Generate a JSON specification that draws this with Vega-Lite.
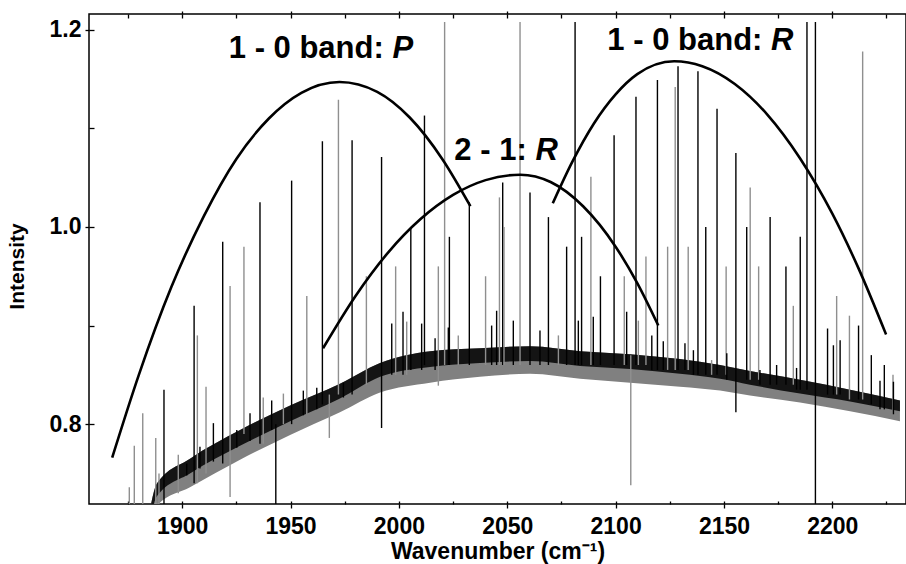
{
  "$schema": "https://vega.github.io/schema/vega-lite/v6.json",
  "width": 817,
  "height": 490,
  "autosize": {"type": "none"},
  "padding": {"left": 89, "top": 14, "right": 0, "bottom": 60},
  "background": "white",
  "config": {
    "view": {"stroke": "#000", "strokeWidth": 1.5},
    "font": "Liberation Sans",
    "axis": {"grid": false, "domain": false, "tickColor": "#000", "tickWidth": 1.3, "labelColor": "#000", "titleColor": "#000", "labelFont": "Liberation Sans", "titleFont": "Liberation Sans", "labelFontWeight": "bold", "titleFontWeight": "bold", "labelOverlap": false, "labelFlush": false}
  },
  "datasets": {
    "band": [
      {"x": 1884, "top": 0.70, "blk": 0.69, "bot": 0.68},
      {"x": 1888.4, "top": 0.740, "blk": 0.727, "bot": 0.7175},
      {"x": 1903.6, "top": 0.765, "blk": 0.750, "bot": 0.736},
      {"x": 1926.7, "top": 0.794, "blk": 0.778, "bot": 0.764},
      {"x": 1949.8, "top": 0.819, "blk": 0.803, "bot": 0.789},
      {"x": 1972.8, "top": 0.841, "blk": 0.826, "bot": 0.812},
      {"x": 1991.3, "top": 0.862, "blk": 0.848, "bot": 0.832},
      {"x": 2014.4, "top": 0.874, "blk": 0.858, "bot": 0.842},
      {"x": 2037.4, "top": 0.877, "blk": 0.862, "bot": 0.848},
      {"x": 2060.5, "top": 0.879, "blk": 0.864, "bot": 0.851},
      {"x": 2083.6, "top": 0.874, "blk": 0.859, "bot": 0.846},
      {"x": 2106.7, "top": 0.871, "blk": 0.856, "bot": 0.842},
      {"x": 2129.7, "top": 0.866, "blk": 0.851, "bot": 0.838},
      {"x": 2148.2, "top": 0.860, "blk": 0.846, "bot": 0.834},
      {"x": 2162.0, "top": 0.854, "blk": 0.840, "bot": 0.829},
      {"x": 2185.1, "top": 0.845, "blk": 0.831, "bot": 0.822},
      {"x": 2208.2, "top": 0.835, "blk": 0.823, "bot": 0.813},
      {"x": 2231.2, "top": 0.824, "blk": 0.813, "bot": 0.803}
    ],
    "spikes": [
      {"x": 1875.6, "lo": 0.70, "hi": 0.736, "c": "g"},
      {"x": 1877.9, "lo": 0.70, "hi": 0.778, "c": "g"},
      {"x": 1881.8, "lo": 0.70, "hi": 0.811, "c": "g"},
      {"x": 1887.8, "lo": 0.70, "hi": 0.786, "c": "g"},
      {"x": 1889.3, "lo": 0.70, "hi": 0.750, "c": "g"},
      {"x": 1891.6, "lo": 0.70, "hi": 0.835, "c": "k"},
      {"x": 1898.2, "lo": 0.73, "hi": 0.769, "c": "g"},
      {"x": 1902.1, "lo": 0.748, "hi": 0.760, "c": "k"},
      {"x": 1905.5, "lo": 0.74, "hi": 0.920, "c": "k"},
      {"x": 1907.0, "lo": 0.74, "hi": 0.890, "c": "g"},
      {"x": 1908.2, "lo": 0.755, "hi": 0.777, "c": "k"},
      {"x": 1911.0, "lo": 0.75, "hi": 0.838, "c": "g"},
      {"x": 1914.4, "lo": 0.762, "hi": 0.801, "c": "k"},
      {"x": 1918.7, "lo": 0.76, "hi": 0.985, "c": "k"},
      {"x": 1922.1, "lo": 0.726, "hi": 0.940, "c": "g"},
      {"x": 1925.2, "lo": 0.776, "hi": 0.794, "c": "k"},
      {"x": 1928.5, "lo": 0.79, "hi": 0.980, "c": "g"},
      {"x": 1931.3, "lo": 0.783, "hi": 0.811, "c": "k"},
      {"x": 1935.9, "lo": 0.78, "hi": 1.025, "c": "k"},
      {"x": 1937.4, "lo": 0.78, "hi": 0.827, "c": "g"},
      {"x": 1941.3, "lo": 0.794, "hi": 0.824, "c": "k"},
      {"x": 1943.2, "lo": 0.70, "hi": 0.800, "c": "k"},
      {"x": 1946.7, "lo": 0.80, "hi": 0.831, "c": "g"},
      {"x": 1950.5, "lo": 0.80, "hi": 1.047, "c": "k"},
      {"x": 1955.9, "lo": 0.809, "hi": 0.834, "c": "k"},
      {"x": 1957.5, "lo": 0.81, "hi": 0.930, "c": "g"},
      {"x": 1962.1, "lo": 0.815, "hi": 0.837, "c": "k"},
      {"x": 1964.7, "lo": 0.82, "hi": 1.087, "c": "k"},
      {"x": 1967.9, "lo": 0.786, "hi": 0.830, "c": "g"},
      {"x": 1972.1, "lo": 0.83, "hi": 1.129, "c": "g"},
      {"x": 1974.4, "lo": 0.827, "hi": 0.842, "c": "k"},
      {"x": 1978.4, "lo": 0.83, "hi": 1.088, "c": "k"},
      {"x": 1985.0, "lo": 0.84, "hi": 0.950, "c": "g"},
      {"x": 1992.0, "lo": 0.796, "hi": 1.071, "c": "k"},
      {"x": 1996.7, "lo": 0.85, "hi": 0.902, "c": "k"},
      {"x": 1998.5, "lo": 0.85, "hi": 0.960, "c": "g"},
      {"x": 2001.9, "lo": 0.85, "hi": 0.914, "c": "k"},
      {"x": 2003.6, "lo": 0.85, "hi": 0.904, "c": "g"},
      {"x": 2005.5, "lo": 0.855, "hi": 1.000, "c": "k"},
      {"x": 2010.5, "lo": 0.855, "hi": 0.902, "c": "k"},
      {"x": 2011.8, "lo": 0.86, "hi": 1.113, "c": "k"},
      {"x": 2016.7, "lo": 0.855, "hi": 0.887, "c": "k"},
      {"x": 2018.2, "lo": 0.839, "hi": 0.960, "c": "g"},
      {"x": 2021.1, "lo": 0.86, "hi": 1.208, "c": "g"},
      {"x": 2022.8, "lo": 0.86, "hi": 0.898, "c": "k"},
      {"x": 2023.3, "lo": 0.86, "hi": 0.990, "c": "k"},
      {"x": 2027.4, "lo": 0.86, "hi": 0.890, "c": "g"},
      {"x": 2032.5, "lo": 0.86, "hi": 1.025, "c": "k"},
      {"x": 2040.0, "lo": 0.86, "hi": 0.950, "c": "g"},
      {"x": 2042.8, "lo": 0.86, "hi": 0.900, "c": "k"},
      {"x": 2045.1, "lo": 0.86, "hi": 0.915, "c": "k"},
      {"x": 2046.4, "lo": 0.86, "hi": 1.030, "c": "g"},
      {"x": 2047.9, "lo": 0.86, "hi": 1.045, "c": "k"},
      {"x": 2048.5, "lo": 0.86, "hi": 1.000, "c": "g"},
      {"x": 2052.8, "lo": 0.86, "hi": 0.905, "c": "k"},
      {"x": 2055.9, "lo": 0.86, "hi": 1.208, "c": "g"},
      {"x": 2060.5, "lo": 0.86, "hi": 1.035, "c": "k"},
      {"x": 2065.1, "lo": 0.86, "hi": 0.895, "c": "k"},
      {"x": 2069.0, "lo": 0.86, "hi": 1.010, "c": "k"},
      {"x": 2073.6, "lo": 0.86, "hi": 0.890, "c": "g"},
      {"x": 2077.4, "lo": 0.86, "hi": 0.980, "c": "k"},
      {"x": 2081.3, "lo": 0.86, "hi": 1.208, "c": "k"},
      {"x": 2082.8, "lo": 0.86, "hi": 0.905, "c": "k"},
      {"x": 2084.3, "lo": 0.86, "hi": 0.990, "c": "k"},
      {"x": 2088.6, "lo": 0.86, "hi": 1.051, "c": "g"},
      {"x": 2089.7, "lo": 0.86, "hi": 0.909, "c": "k"},
      {"x": 2093.0, "lo": 0.86, "hi": 0.950, "c": "k"},
      {"x": 2099.3, "lo": 0.86, "hi": 1.093, "c": "k"},
      {"x": 2104.0, "lo": 0.86, "hi": 0.950, "c": "g"},
      {"x": 2105.1, "lo": 0.86, "hi": 0.914, "c": "k"},
      {"x": 2107.0, "lo": 0.738, "hi": 0.870, "c": "g"},
      {"x": 2109.4, "lo": 0.86, "hi": 1.132, "c": "k"},
      {"x": 2110.5, "lo": 0.86, "hi": 0.905, "c": "g"},
      {"x": 2114.0, "lo": 0.86, "hi": 0.970, "c": "g"},
      {"x": 2116.7, "lo": 0.855, "hi": 0.890, "c": "k"},
      {"x": 2119.3, "lo": 0.855, "hi": 1.149, "c": "k"},
      {"x": 2122.0, "lo": 0.855, "hi": 0.884, "c": "k"},
      {"x": 2124.0, "lo": 0.855, "hi": 0.980, "c": "g"},
      {"x": 2127.5, "lo": 0.855, "hi": 1.142, "c": "g"},
      {"x": 2128.8, "lo": 0.855, "hi": 1.163, "c": "k"},
      {"x": 2132.0, "lo": 0.855, "hi": 0.882, "c": "k"},
      {"x": 2133.5, "lo": 0.855, "hi": 0.980, "c": "g"},
      {"x": 2135.9, "lo": 0.85, "hi": 0.875, "c": "k"},
      {"x": 2138.0, "lo": 0.85, "hi": 1.158, "c": "k"},
      {"x": 2141.6, "lo": 0.85, "hi": 1.000, "c": "k"},
      {"x": 2144.3, "lo": 0.85, "hi": 0.865, "c": "g"},
      {"x": 2146.8, "lo": 0.85, "hi": 1.120, "c": "k"},
      {"x": 2151.0, "lo": 0.85, "hi": 0.960, "c": "g"},
      {"x": 2151.3, "lo": 0.845, "hi": 0.872, "c": "k"},
      {"x": 2155.5, "lo": 0.812, "hi": 1.075, "c": "k"},
      {"x": 2160.5, "lo": 0.845, "hi": 1.000, "c": "k"},
      {"x": 2162.1, "lo": 0.845, "hi": 1.040, "c": "g"},
      {"x": 2166.0, "lo": 0.845, "hi": 0.960, "c": "g"},
      {"x": 2166.6, "lo": 0.84, "hi": 0.855, "c": "k"},
      {"x": 2171.3, "lo": 0.84, "hi": 1.010, "c": "k"},
      {"x": 2174.3, "lo": 0.84, "hi": 0.860, "c": "k"},
      {"x": 2178.6, "lo": 0.84, "hi": 0.960, "c": "k"},
      {"x": 2182.0, "lo": 0.84, "hi": 0.920, "c": "g"},
      {"x": 2183.5, "lo": 0.835, "hi": 0.857, "c": "k"},
      {"x": 2185.2, "lo": 0.835, "hi": 0.990, "c": "k"},
      {"x": 2188.3, "lo": 0.835, "hi": 1.208, "c": "k"},
      {"x": 2192.2, "lo": 0.70, "hi": 1.208, "c": "k"},
      {"x": 2197.8, "lo": 0.83, "hi": 0.897, "c": "k"},
      {"x": 2200.5, "lo": 0.83, "hi": 0.880, "c": "k"},
      {"x": 2202.0, "lo": 0.83, "hi": 0.930, "c": "g"},
      {"x": 2203.6, "lo": 0.83, "hi": 0.885, "c": "k"},
      {"x": 2207.9, "lo": 0.825, "hi": 0.910, "c": "g"},
      {"x": 2212.1, "lo": 0.825, "hi": 0.900, "c": "k"},
      {"x": 2214.0, "lo": 0.825, "hi": 1.178, "c": "g"},
      {"x": 2218.0, "lo": 0.82, "hi": 0.870, "c": "k"},
      {"x": 2222.0, "lo": 0.815, "hi": 0.844, "c": "k"},
      {"x": 2224.0, "lo": 0.815, "hi": 0.860, "c": "k"},
      {"x": 2228.0, "lo": 0.81, "hi": 0.850, "c": "g"},
      {"x": 2228.2, "lo": 0.81, "hi": 0.843, "c": "k"}
    ],
    "arcs": [
      {"arc": "p", "x": 1867.7, "y": 0.766},
      {"arc": "p", "x": 1880, "y": 0.850},
      {"arc": "p", "x": 1895, "y": 0.939},
      {"arc": "p", "x": 1910, "y": 1.011},
      {"arc": "p", "x": 1925, "y": 1.069},
      {"arc": "p", "x": 1940, "y": 1.110},
      {"arc": "p", "x": 1955, "y": 1.136},
      {"arc": "p", "x": 1972.6, "y": 1.147},
      {"arc": "p", "x": 1990, "y": 1.137},
      {"arc": "p", "x": 2005, "y": 1.111},
      {"arc": "p", "x": 2020, "y": 1.069},
      {"arc": "p", "x": 2033, "y": 1.021},
      {"arc": "r2", "x": 1965, "y": 0.877},
      {"arc": "r2", "x": 1980, "y": 0.930},
      {"arc": "r2", "x": 1995, "y": 0.974},
      {"arc": "r2", "x": 2010, "y": 1.008},
      {"arc": "r2", "x": 2025, "y": 1.0325},
      {"arc": "r2", "x": 2040, "y": 1.0475},
      {"arc": "r2", "x": 2056, "y": 1.053},
      {"arc": "r2", "x": 2070, "y": 1.0456},
      {"arc": "r2", "x": 2085, "y": 1.021},
      {"arc": "r2", "x": 2100, "y": 0.980},
      {"arc": "r2", "x": 2110, "y": 0.943},
      {"arc": "r2", "x": 2119.7, "y": 0.900},
      {"arc": "r1", "x": 2071, "y": 1.024},
      {"arc": "r1", "x": 2080, "y": 1.066},
      {"arc": "r1", "x": 2090, "y": 1.105},
      {"arc": "r1", "x": 2100, "y": 1.1345},
      {"arc": "r1", "x": 2110, "y": 1.155},
      {"arc": "r1", "x": 2127, "y": 1.168},
      {"arc": "r1", "x": 2140, "y": 1.163},
      {"arc": "r1", "x": 2155, "y": 1.145},
      {"arc": "r1", "x": 2170, "y": 1.114},
      {"arc": "r1", "x": 2185, "y": 1.070},
      {"arc": "r1", "x": 2200, "y": 1.0135},
      {"arc": "r1", "x": 2212, "y": 0.9585},
      {"arc": "r1", "x": 2224.8, "y": 0.891}
    ],
    "lab": [
      {"t": "1 - 0 band:", "x": 1921.5, "y": 1.171},
      {"t": "2 - 1:", "x": 2025.6, "y": 1.068},
      {"t": "1 - 0 band:", "x": 2096.2, "y": 1.179}
    ],
    "labi": [
      {"t": "P", "x": 1997.0, "y": 1.171},
      {"t": "R", "x": 2063.0, "y": 1.068},
      {"t": "R", "x": 2171.7, "y": 1.179}
    ]
  },
  "resolve": {"axis": {"x": "independent", "y": "independent"}},
  "layer": [
    {
      "data": {"name": "band"},
      "mark": {"type": "area", "color": "#808080", "clip": true, "interpolate": "monotone"},
      "encoding": {
        "x": {"field": "x", "type": "quantitative", "scale": {"domain": [1857, 2234], "nice": false, "zero": false},
          "axis": {"orient": "bottom", "values": [1900, 1950, 2000, 2050, 2100, 2150, 2200], "format": "d", "tickSize": 4, "labelFontSize": 23, "labelPadding": 7, "title": "Wavenumber (cm⁻¹)", "titleFontSize": 23, "titleBaseline": "alphabetic", "titleY": 54}},
        "y": {"field": "bot", "type": "quantitative", "scale": {"domain": [0.719, 1.216], "nice": false, "zero": false},
          "axis": {"orient": "left", "values": [0.8, 1.0, 1.2], "format": ".1f", "tickSize": 4, "labelFontSize": 23, "labelPadding": 4, "title": "Intensity", "titleFontSize": 21, "titleAngle": -90, "titleBaseline": "bottom", "titleAlign": "center", "titleX": -62, "titleY": 252}},
        "y2": {"field": "top"}
      }
    },
    {
      "data": {"name": "band"},
      "mark": {"type": "area", "color": "#141414", "clip": true, "interpolate": "monotone"},
      "encoding": {
        "x": {"field": "x", "type": "quantitative", "scale": {"domain": [1857, 2234], "nice": false, "zero": false},
          "axis": {"orient": "bottom", "values": [1875, 1900, 1925, 1950, 1975, 2000, 2025, 2050, 2075, 2100, 2125, 2150, 2175, 2200, 2225], "tickSize": -3, "labels": false, "title": null}},
        "y": {"field": "blk", "type": "quantitative", "scale": {"domain": [0.719, 1.216], "nice": false, "zero": false},
          "axis": {"orient": "left", "values": [0.8, 0.9, 1.0, 1.1, 1.2], "tickSize": -5, "labels": false, "title": null}},
        "y2": {"field": "top"}
      }
    },
    {
      "data": {"name": "spikes"},
      "mark": {"type": "rule", "strokeWidth": 1.4, "clip": true},
      "encoding": {
        "x": {"field": "x", "type": "quantitative", "scale": {"domain": [1857, 2234], "nice": false, "zero": false},
          "axis": {"orient": "top", "values": [1875, 1900, 1925, 1950, 1975, 2000, 2025, 2050, 2075, 2100, 2125, 2150, 2175, 2200, 2225], "tickSize": -4, "labels": false, "title": null}},
        "y": {"field": "lo", "type": "quantitative", "scale": {"domain": [0.719, 1.216], "nice": false, "zero": false}, "axis": null},
        "y2": {"field": "hi"},
        "color": {"field": "c", "type": "nominal", "scale": {"domain": ["k", "g"], "range": ["#000000", "#8f8f8f"]}, "legend": null}
      }
    },
    {
      "data": {"name": "arcs"},
      "mark": {"type": "line", "color": "#000", "strokeWidth": 2.6, "interpolate": "monotone", "clip": true},
      "encoding": {
        "x": {"field": "x", "type": "quantitative", "scale": {"domain": [1857, 2234], "nice": false, "zero": false},
          "axis": {"orient": "top", "values": [1900, 1950, 2000, 2050, 2100, 2150, 2200], "tickSize": 3, "labels": false, "title": null}},
        "y": {"field": "y", "type": "quantitative", "scale": {"domain": [0.719, 1.216], "nice": false, "zero": false}, "axis": null},
        "detail": {"field": "arc", "type": "nominal"}
      }
    },
    {
      "data": {"name": "lab"},
      "mark": {"type": "text", "align": "left", "baseline": "alphabetic", "font": "Liberation Sans", "fontSize": 31, "fontWeight": "bold", "color": "#000"},
      "encoding": {
        "x": {"field": "x", "type": "quantitative", "scale": {"domain": [1857, 2234], "nice": false, "zero": false}, "axis": null},
        "y": {"field": "y", "type": "quantitative", "scale": {"domain": [0.719, 1.216], "nice": false, "zero": false}, "axis": null},
        "text": {"field": "t"}
      }
    },
    {
      "data": {"name": "labi"},
      "mark": {"type": "text", "align": "left", "baseline": "alphabetic", "font": "Liberation Sans", "fontSize": 31, "fontWeight": "bold", "fontStyle": "italic", "color": "#000"},
      "encoding": {
        "x": {"field": "x", "type": "quantitative", "scale": {"domain": [1857, 2234], "nice": false, "zero": false}, "axis": null},
        "y": {"field": "y", "type": "quantitative", "scale": {"domain": [0.719, 1.216], "nice": false, "zero": false}, "axis": null},
        "text": {"field": "t"}
      }
    }
  ]
}
